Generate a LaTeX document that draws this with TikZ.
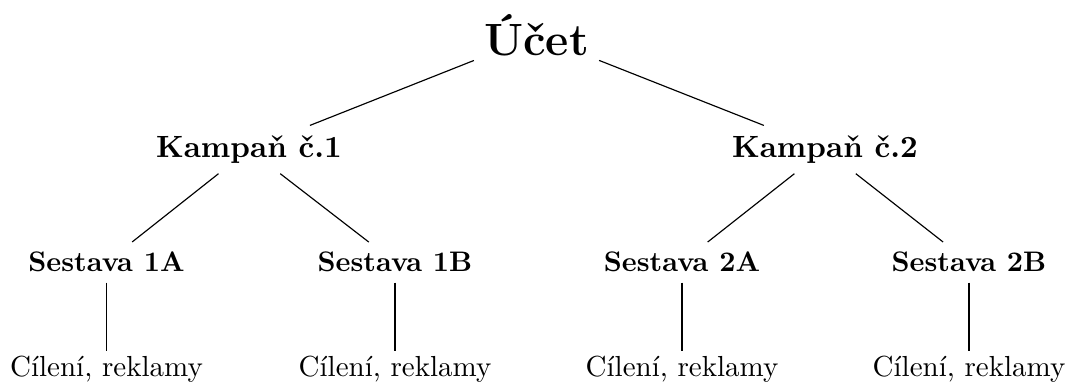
\documentclass[tikz,border=0pt]{standalone}
\begin{document}
\begin{tikzpicture}[x=0.3448pt,y=-0.3448pt,
  every node/.style={anchor=base,inner sep=3.33pt},
  toplevel/.style={font=\fontsize{15.6}{18}\selectfont\bfseries},
  camplevel/.style={font=\fontsize{10.6}{13}\selectfont\bfseries},
  grouplevel/.style={font=\fontsize{9.75}{12}\selectfont\bfseries},
  leaflevel/.style={font=\normalfont,inner ysep=1.6pt}]
\useasboundingbox (0,0) rectangle (1066,388);
% root
\node[toplevel] (acct) at (536.5,56) {Účet};
% campaigns
\node[camplevel] (k1) at (249,157.5) {Kampaň č.1};
\node[camplevel] (k2) at (825,157.5) {Kampaň č.2};
% ad groups
\node[grouplevel] (s1a) at (106.5,272) {Sestava 1A};
\node[grouplevel] (s1b) at (395,272) {Sestava 1B};
\node[grouplevel] (s2a) at (682,272) {Sestava 2A};
\node[grouplevel] (s2b) at (969,272) {Sestava 2B};
% targeting and ads
\node[leaflevel] (c1a) at (106.5,377) {Cílení, reklamy};
\node[leaflevel] (c1b) at (395,377) {Cílení, reklamy};
\node[leaflevel] (c2a) at (682,377) {Cílení, reklamy};
\node[leaflevel] (c2b) at (969,377) {Cílení, reklamy};
% edges
\draw (acct) -- (k1);
\draw (acct) -- (k2);
\draw (k1) -- (s1a);
\draw (k1) -- (s1b);
\draw (k2) -- (s2a);
\draw (k2) -- (s2b);
\draw (s1a) -- (c1a);
\draw (s1b) -- (c1b);
\draw (s2a) -- (c2a);
\draw (s2b) -- (c2b);
\end{tikzpicture}
\end{document}
